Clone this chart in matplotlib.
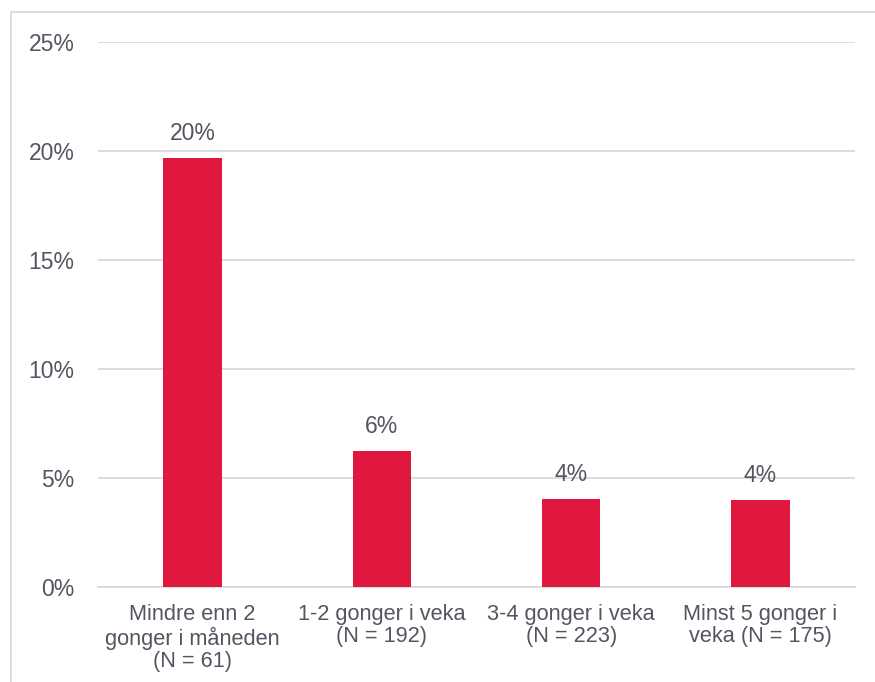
import matplotlib.pyplot as plt
from matplotlib.patches import Rectangle
from matplotlib.ticker import FuncFormatter

# Data
kategoriar = ["Mindre enn 2\ngonger i måneden\n(N = 61)",
              "1-2 gonger i veka\n(N = 192)",
              "3-4 gonger i veka\n(N = 223)",
              "Minst 5 gonger i\nveka (N = 175)"]
verdiar = [19.7, 6.25, 4.05, 4.0]
etikettar = ["20%", "6%", "4%", "4%"]
y_ticks = [0, 5, 10, 15, 20, 25]

plt.rcParams['font.family'] = ['Liberation Sans', 'DejaVu Sans']
tekstfarge = "#595260"
raud = "#E0173F"
grid = "#D9D9D9"

W, H = 875, 682
fig = plt.figure(figsize=(W / 100, H / 100), dpi=100)
ax = fig.add_axes([98 / W, 1 - 587 / H, (855 - 98) / W, (587 - 42) / H])

x = range(len(verdiar))
ax.bar(x, verdiar, width=0.31, color=raud, zorder=3)

for xi, v, lab in zip(x, verdiar, etikettar):
    ax.annotate(lab, (xi, v), xytext=(0, 9), textcoords="offset points",
                ha="center", va="bottom", fontsize=16.5, color=tekstfarge)

ax.set_xlim(-0.5, len(verdiar) - 0.5)
ax.set_ylim(0, 25)
ax.set_yticks(y_ticks)
ax.yaxis.set_major_formatter(FuncFormatter(lambda v, p: f"{v:.0f}%"))
ax.set_xticks(list(x))
ax.set_xticklabels(kategoriar, linespacing=1.1)

ax.tick_params(axis="y", length=0, pad=17, labelsize=16.5, labelcolor=tekstfarge)
ax.tick_params(axis="x", length=0, pad=12, labelsize=15.7, labelcolor=tekstfarge)
ax.grid(axis="y", color=grid, linewidth=1.3, zorder=0)
for s in ["top", "right", "left"]:
    ax.spines[s].set_visible(False)
ax.spines["bottom"].set_color(grid)
ax.spines["bottom"].set_linewidth(1.3)

# ramme rundt diagrammet
fig.patches.append(Rectangle((11 / W, -0.1), 1.2, 1 - 12 / H + 0.1,
                             transform=fig.transFigure, fill=False,
                             edgecolor=grid, linewidth=1.3))

fig.savefig("out.png", dpi=100)
